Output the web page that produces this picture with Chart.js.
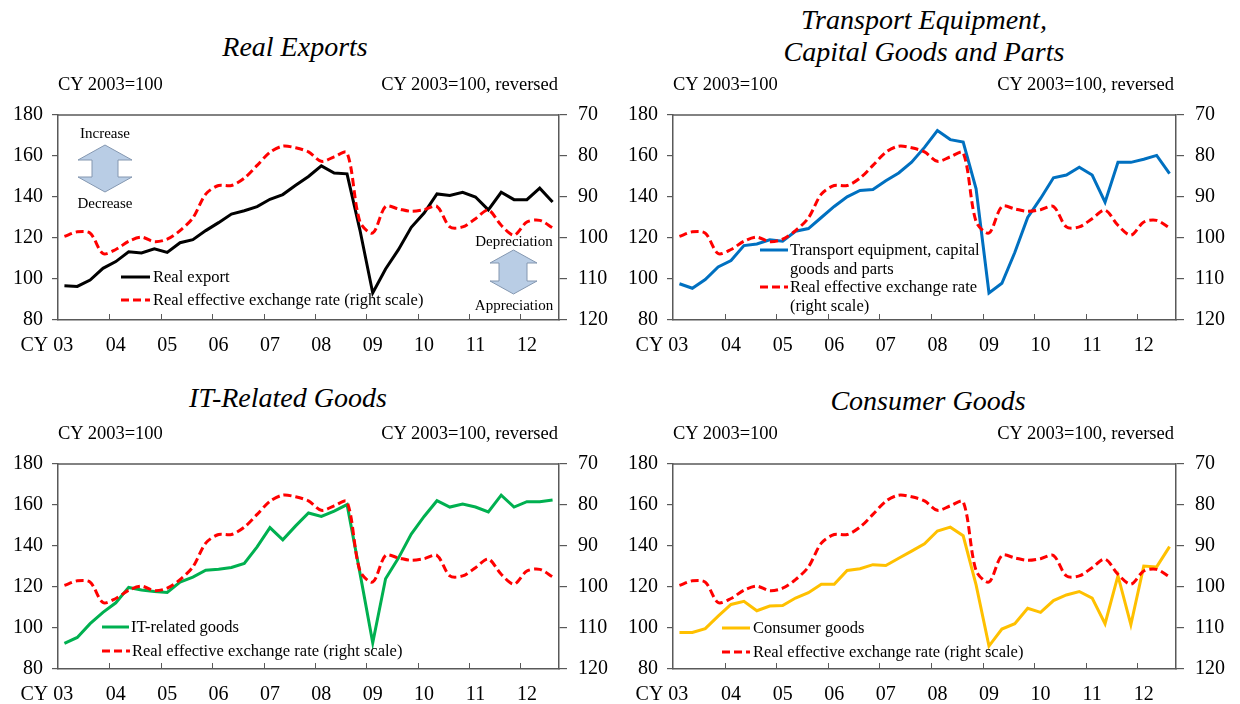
<!DOCTYPE html>
<html><head><meta charset="utf-8">
<script src="https://cdn.jsdelivr.net/npm/chart.js@4.4.0/dist/chart.umd.min.js"></script>
<style>
html,body{margin:0;padding:0;background:#fff}
body{width:1240px;height:704px;position:relative;overflow:hidden;font-family:"Liberation Serif","Times New Roman",serif;color:#000}
.t{position:absolute;white-space:nowrap}
.title{font-style:italic;font-size:28px;line-height:32px;transform:translate(-50%,-50%)}
.unit{font-size:18.5px;line-height:22px;transform:translateY(-50%)}
.unitR{font-size:18.5px;line-height:22px;transform:translate(-100%,-50%)}
.leg{font-size:16.5px;line-height:19px}
.note{font-size:15px;line-height:18px;transform:translate(-50%,-50%)}
canvas{position:absolute}
svg{position:absolute;overflow:visible}
</style></head>
<body>
<canvas id="c1" width="620" height="268" style="left:0;top:92px"></canvas>
<canvas id="c2" width="625" height="268" style="left:615px;top:92px"></canvas>
<canvas id="c3" width="620" height="268" style="left:0;top:441px"></canvas>
<canvas id="c4" width="625" height="268" style="left:615px;top:441px"></canvas>

<div class="t title" style="left:295px;top:47px">Real Exports</div>
<div class="t title" style="left:924px;top:20px">Transport Equipment,</div>
<div class="t title" style="left:924px;top:52px">Capital Goods and Parts</div>
<div class="t title" style="left:288px;top:398px">IT-Related Goods</div>
<div class="t title" style="left:928px;top:401px">Consumer Goods</div>

<div class="t unit" style="left:58px;top:84px">CY 2003=100</div>
<div class="t unitR" style="left:558px;top:84px">CY 2003=100, reversed</div>
<div class="t unit" style="left:673px;top:84px">CY 2003=100</div>
<div class="t unitR" style="left:1174px;top:84px">CY 2003=100, reversed</div>
<div class="t unit" style="left:58px;top:433px">CY 2003=100</div>
<div class="t unitR" style="left:558px;top:433px">CY 2003=100, reversed</div>
<div class="t unit" style="left:673px;top:433px">CY 2003=100</div>
<div class="t unitR" style="left:1174px;top:433px">CY 2003=100, reversed</div>

<!-- annotations panel 1 -->
<div class="t note" style="left:105px;top:133px">Increase</div>
<svg style="left:78px;top:145px" width="54" height="47"><polygon points="27,0 54,15 40,15 40,32 54,32 27,47 0,32 14,32 14,15 0,15" fill="#b9cde5" stroke="#8497b0" stroke-width="1"/></svg>
<div class="t note" style="left:105px;top:203px">Decrease</div>
<div class="t note" style="left:514px;top:241px">Depreciation</div>
<svg style="left:490px;top:250px" width="47" height="44"><polygon points="23.5,0 47,13 37,13 37,31 47,31 23.5,44 0,31 9,31 9,13 0,13" fill="#b9cde5" stroke="#8497b0" stroke-width="1"/></svg>
<div class="t note" style="left:514px;top:305px">Appreciation</div>

<!-- legends -->
<svg style="left:121px;top:277px" width="29" height="1"><line x1="0" y1="0" x2="29" y2="0" stroke="#000" stroke-width="3"/></svg>
<div class="t leg" style="left:153px;top:267px">Real export</div>
<svg style="left:121px;top:300px" width="29" height="1"><line x1="0" y1="0" x2="29" y2="0" stroke="#ff0000" stroke-width="3" stroke-dasharray="8,4"/></svg>
<div class="t leg" style="left:153px;top:290px">Real effective exchange rate (right scale)</div>

<svg style="left:760px;top:250px" width="28" height="1"><line x1="0" y1="0" x2="28" y2="0" stroke="#0070c0" stroke-width="3"/></svg>
<div class="t leg" style="left:790px;top:240px">Transport equipment, capital<br>goods and parts</div>
<svg style="left:760px;top:287px" width="28" height="1"><line x1="0" y1="0" x2="28" y2="0" stroke="#ff0000" stroke-width="3" stroke-dasharray="8,4"/></svg>
<div class="t leg" style="left:790px;top:277px">Real effective exchange rate<br>(right scale)</div>

<svg style="left:102px;top:627px" width="27" height="1"><line x1="0" y1="0" x2="27" y2="0" stroke="#00b050" stroke-width="3"/></svg>
<div class="t leg" style="left:131px;top:617px">IT-related goods</div>
<svg style="left:102px;top:651px" width="28" height="1"><line x1="0" y1="0" x2="28" y2="0" stroke="#ff0000" stroke-width="3" stroke-dasharray="8,4"/></svg>
<div class="t leg" style="left:132px;top:641px">Real effective exchange rate (right scale)</div>

<svg style="left:722px;top:628px" width="28" height="1"><line x1="0" y1="0" x2="28" y2="0" stroke="#ffc000" stroke-width="3"/></svg>
<div class="t leg" style="left:753px;top:618px">Consumer goods</div>
<svg style="left:722px;top:652px" width="28" height="1"><line x1="0" y1="0" x2="28" y2="0" stroke="#ff0000" stroke-width="3" stroke-dasharray="8,4"/></svg>
<div class="t leg" style="left:753px;top:642px">Real effective exchange rate (right scale)</div>

<script>
// ---- data ----
const quarters = ['03Q1','03Q2','03Q3','03Q4','04Q1','04Q2','04Q3','04Q4','05Q1','05Q2','05Q3','05Q4',
  '06Q1','06Q2','06Q3','06Q4','07Q1','07Q2','07Q3','07Q4','08Q1','08Q2','08Q3','08Q4',
  '09Q1','09Q2','09Q3','09Q4','10Q1','10Q2','10Q3','10Q4','11Q1','11Q2','11Q3','11Q4',
  '12Q1','12Q2','12Q3'];
const yearLabels = ['CY 03','04','05','06','07','08','09','10','11','12'];
const leftTicks = [80,100,120,140,160,180];
const rightTicks = [70,80,90,100,110,120];

const realExport = [96.7,96.4,99.5,105.2,108.5,113.3,112.7,114.7,113.0,117.7,119.2,123.6,
  127.5,131.7,133.3,135.3,138.9,141.2,145.7,150.0,155.2,151.7,151.3,124.0,
  93.2,104.9,114.3,125.2,132.2,141.5,140.7,142.3,140.0,133.7,142.3,138.7,
  138.7,144.3,137.6];
const transport = [97.7,95.5,99.7,105.9,109.0,116.3,117.1,119.1,118.4,123.3,124.6,130.0,
  135.4,140.1,143.2,143.7,147.9,151.7,157.0,164.2,172.4,168.0,166.8,144.0,
  93.2,97.9,112.9,130.0,139.3,149.4,150.7,154.5,150.7,137.5,156.9,156.9,
  158.4,160.3,151.4];
const itGoods = [92.5,95.4,102.1,107.6,112.3,119.8,118.5,117.8,117.3,122.4,124.8,128.2,
  128.7,129.5,131.5,139.6,149.0,143.0,149.8,156.1,154.4,157.0,160.2,127.0,
  92.8,124.0,134.1,145.8,154.4,162.1,159.0,160.5,159.0,156.6,164.8,159.0,
  161.6,161.6,162.4];
const consumer = [97.8,97.8,99.7,105.8,111.5,113.0,108.4,110.7,111.0,114.6,117.2,121.3,
  121.3,128.1,128.9,130.9,130.5,134.0,137.5,141.1,147.3,149.2,145.0,121.0,
  91.2,99.5,102.1,109.6,107.6,113.4,116.1,117.8,114.6,102.1,125.5,101.6,
  130.2,129.8,139.7];
const reer = [99.6,98.5,98.8,103.8,102.8,100.8,99.8,100.9,100.3,98.2,95.1,89.3,
  87.2,87.2,85.4,82.3,79.1,77.6,78.0,79.0,81.3,80.2,79.2,96.0,
  98.8,92.3,92.9,93.5,93.1,92.3,97.3,97.3,95.3,93.2,96.9,99.3,
  96.1,95.7,97.5];

// ---- styling ----
const FONT = "'Liberation Serif','Times New Roman',serif";
const AXIS = '#595959';

const framePlugin = {
  id: 'frame',
  afterDraw(chart) {
    const {ctx, chartArea: a, scales: {x}} = chart;
    ctx.save();
    ctx.strokeStyle = AXIS;
    ctx.lineWidth = 1.5;
    ctx.beginPath(); ctx.moveTo(a.left, a.top); ctx.lineTo(a.right, a.top); ctx.stroke();
    const half = (x.getPixelForValue(1) - x.getPixelForValue(0)) / 2;
    ctx.lineWidth = 1;
    for (let i = 4; i < quarters.length; i += 4) {
      const px = Math.round(x.getPixelForValue(i) - half) + 0.5;
      ctx.beginPath(); ctx.moveTo(px, a.bottom); ctx.lineTo(px, a.bottom - 6); ctx.stroke();
    }
    ctx.restore();
  }
};

function makeChart(id, series, color, name, rightWidth) {
  const tickFont = {family: FONT, size: 20};
  return new Chart(document.getElementById(id), {
    type: 'line',
    data: {
      labels: quarters,
      datasets: [
        {label: name, data: series, yAxisID: 'y', borderColor: color, borderWidth: 3,
         pointRadius: 0, tension: 0, order: 2, fill: false},
        {label: 'Real effective exchange rate (right scale)', data: reer, yAxisID: 'y2',
         borderColor: '#ff0000', borderWidth: 3, borderDash: [8, 4], pointRadius: 0,
         tension: 0.3, order: 1, fill: false}
      ]
    },
    options: {
      responsive: false, animation: false, devicePixelRatio: 1,
      layout: {padding: {top: 14, left: 0, right: 0, bottom: 0}},
      plugins: {legend: {display: false}, tooltip: {enabled: false}},
      scales: {
        x: {
          type: 'category', offset: true,
          grid: {display: false, offset: true},
          border: {display: true, color: AXIS, width: 1.5},
          ticks: {
            autoSkip: false, maxRotation: 0, minRotation: 0, padding: 6, color: '#000', font: tickFont,
            callback: (v, i) => i % 4 === 0 ? (i === 0 ? yearLabels[0] + '\u00a0\u00a0\u00a0\u00a0\u00a0\u00a0\u00a0' : yearLabels[i / 4]) : ''
          },
          afterFit: s => { s.height = 40; }
        },
        y: {
          position: 'left', min: 80, max: 180,
          afterBuildTicks: s => { s.ticks = leftTicks.map(v => ({value: v})); },
          ticks: {padding: 9, color: '#000', font: tickFont},
          grid: {drawOnChartArea: false, tickLength: 6, color: AXIS, lineWidth: 1.2},
          border: {display: true, color: AXIS, width: 1.5},
          afterFit: s => { s.width = 58; }
        },
        y2: {
          position: 'right', min: 70, max: 120, reverse: true,
          afterBuildTicks: s => { s.ticks = rightTicks.map(v => ({value: v})); },
          ticks: {padding: 11, color: '#000', font: tickFont},
          grid: {drawOnChartArea: false, tickLength: 8, color: AXIS, lineWidth: 1.2},
          border: {display: true, color: AXIS, width: 1.5},
          afterFit: s => { s.width = rightWidth; }
        }
      }
    },
    plugins: [framePlugin]
  });
}

makeChart('c1', realExport, '#000000', 'Real export', 61);
makeChart('c2', transport, '#0070c0', 'Transport equipment, capital goods and parts', 64);
makeChart('c3', itGoods, '#00b050', 'IT-related goods', 61);
makeChart('c4', consumer, '#ffc000', 'Consumer goods', 64);
</script>
</body></html>
